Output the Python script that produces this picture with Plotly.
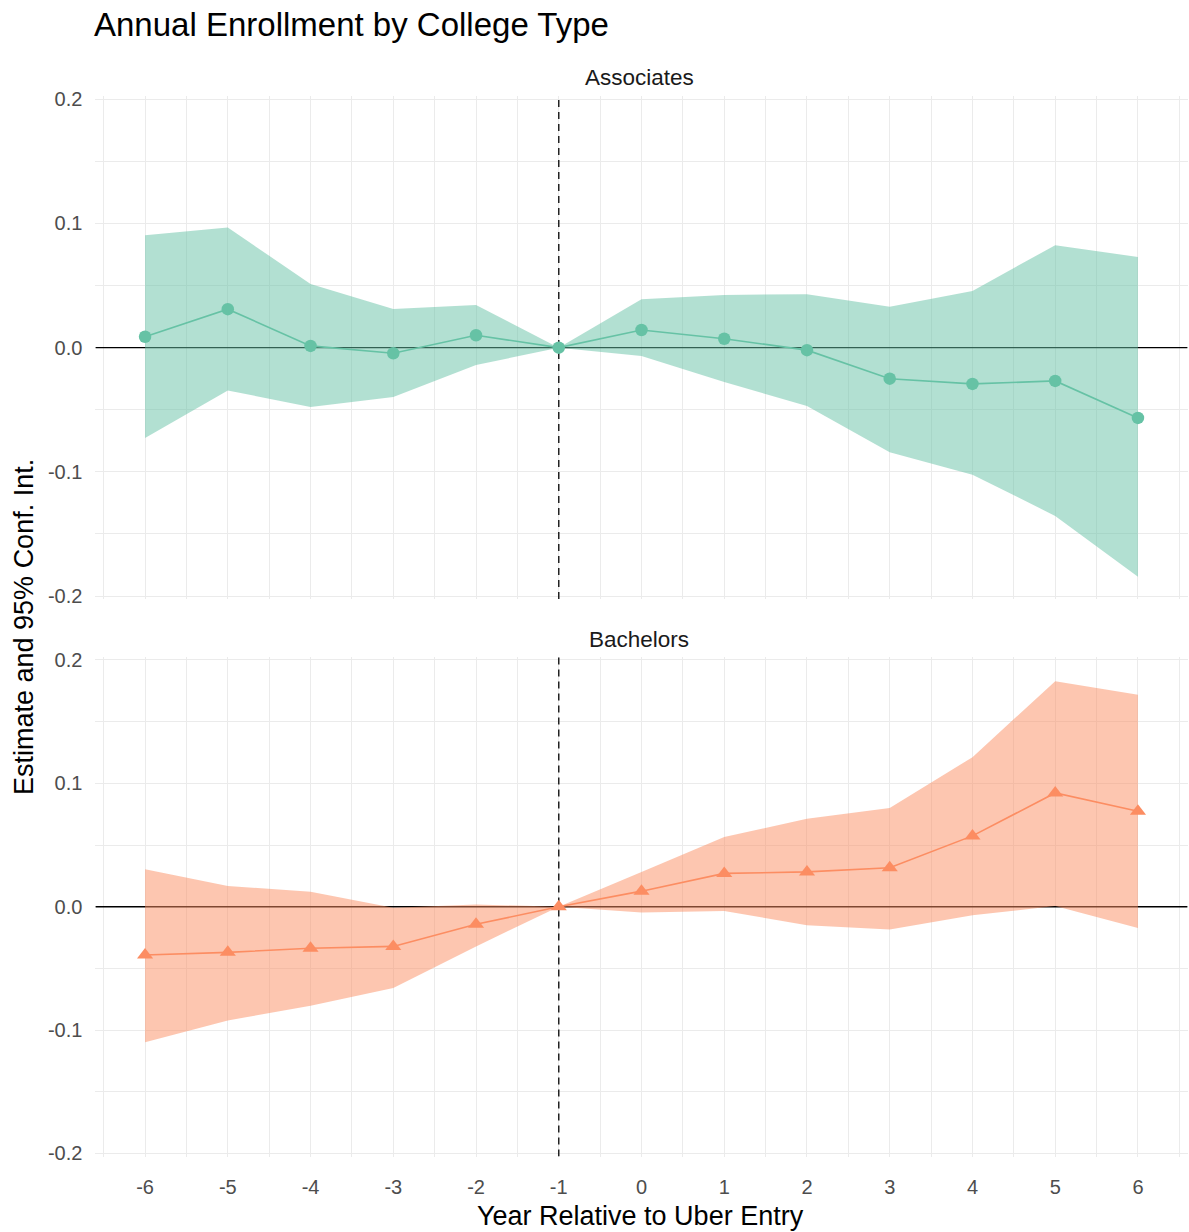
import plotly.graph_objects as go

# ---- data -------------------------------------------------------------
years = [-6, -5, -4, -3, -2, -1, 0, 1, 2, 3, 4, 5, 6]

assoc_est = [0.0088, 0.0310, 0.0014, -0.0045, 0.0100, 0.0, 0.0142, 0.0072, -0.0020, -0.0250, -0.0292, -0.0268, -0.0566]
assoc_hi = [0.0905, 0.0968, 0.0512, 0.0312, 0.0343, 0.0, 0.0390, 0.0425, 0.0430, 0.0330, 0.0457, 0.0825, 0.0730]
assoc_lo = [-0.0728, -0.0345, -0.0478, -0.0398, -0.0140, 0.0, -0.0068, -0.0277, -0.0470, -0.0842, -0.1023, -0.1355, -0.1845]

bach_est = [-0.0392, -0.0370, -0.0337, -0.0322, -0.0143, 0.0, 0.0126, 0.0270, 0.0282, 0.0316, 0.0574, 0.0922, 0.0774]
bach_hi = [0.0303, 0.0168, 0.0122, -0.0008, 0.0018, 0.0, 0.0282, 0.0565, 0.0712, 0.0800, 0.1212, 0.1828, 0.1718]
bach_lo = [-0.1098, -0.0922, -0.0803, -0.0660, -0.0322, 0.0, -0.0048, -0.0035, -0.0150, -0.0185, -0.0070, 0.0005, -0.0173]

entry_ref_year = -1   # reference period (dashed vertical line)

x_ticks = years
x_labels = [str(v) for v in years]
y_ticks = [-0.2, -0.1, 0.0, 0.1, 0.2]
y_labels = ["-0.2", "-0.1", "0.0", "0.1", "0.2"]

panels = ["Associates", "Bachelors"]

# ---- styling ----------------------------------------------------------
W, H = 1189, 1232
FONT = "Liberation Sans, Arial, sans-serif"
GREEN = "#66c2a5"
ORANGE = "#fc8d62"
GRID = "#ebebeb"

x_range = [-6.6, 6.6]
y_range = [-0.2025, 0.2025]


def px_x(p):
    return p / W


def px_y(p):
    return 1 - p / H


fig = go.Figure()

series = [
    (assoc_est, assoc_hi, assoc_lo, GREEN, "rgba(102,194,165,0.5)", "circle", 12.5, "x", "y"),
    (bach_est, bach_hi, bach_lo, ORANGE, "rgba(252,141,98,0.5)", "triangle-up", 14, "x2", "y2"),
]

for est, hi, lo, col, fillcol, sym, msize, xa, ya in series:
    # horizontal zero line (under the ribbon)
    fig.add_trace(go.Scatter(
        x=x_range, y=[0, 0], mode="lines",
        line=dict(color="black", width=1.4),
        hoverinfo="skip", showlegend=False, xaxis=xa, yaxis=ya,
    ))
    # dashed line at the reference year
    fig.add_trace(go.Scatter(
        x=[entry_ref_year, entry_ref_year], y=y_range, mode="lines",
        line=dict(color="#222222", width=1.5, dash="7px,5px"),
        hoverinfo="skip", showlegend=False, xaxis=xa, yaxis=ya,
    ))
    # confidence ribbon as a closed polygon
    fig.add_trace(go.Scatter(
        x=years + years[::-1],
        y=hi + lo[::-1],
        fill="toself",
        fillcolor=fillcol,
        line=dict(width=0),
        mode="lines",
        hoverinfo="skip",
        showlegend=False,
        xaxis=xa, yaxis=ya,
    ))
    # point estimates
    fig.add_trace(go.Scatter(
        x=years, y=est,
        mode="lines+markers",
        line=dict(color=col, width=1.6),
        marker=dict(symbol=sym, size=msize, color=col, line=dict(width=0)),
        showlegend=False,
        xaxis=xa, yaxis=ya,
    ))

x_dom = [px_x(95.4), px_x(1187.6)]
y_dom_top = [px_y(599.1), px_y(96.2)]
y_dom_bot = [px_y(1156.5), px_y(656.9)]

common_x = dict(
    range=x_range, domain=x_dom,
    tickmode="array", tickvals=x_ticks, ticktext=x_labels,
    showgrid=True, gridcolor=GRID, gridwidth=1.3,
    minor=dict(dtick=0.5, tick0=0.5, showgrid=True, gridcolor=GRID, gridwidth=0.9),
    zeroline=False, showline=False, ticks="",
    automargin=False,
    tickfont=dict(family=FONT, size=20, color="#4d4d4d"),
)
common_y = dict(
    range=y_range,
    tickmode="array", tickvals=y_ticks, ticktext=y_labels,
    showgrid=True, gridcolor=GRID, gridwidth=1.3,
    minor=dict(dtick=0.05, tick0=0.05, showgrid=True, gridcolor=GRID, gridwidth=0.9),
    zeroline=False, showline=False, ticks="",
    automargin=False,
    ticklabelstandoff=12,
    tickfont=dict(family=FONT, size=20, color="#4d4d4d"),
)

fig.update_layout(
    width=W, height=H,
    margin=dict(l=0, r=0, t=0, b=0, autoexpand=False),
    paper_bgcolor="white", plot_bgcolor="white",
    showlegend=False,
    xaxis=dict(common_x, anchor="y", showticklabels=False),
    yaxis=dict(common_y, domain=y_dom_top, anchor="x"),
    xaxis2=dict(common_x, anchor="y2", showticklabels=True, ticklabelstandoff=16),
    yaxis2=dict(common_y, domain=y_dom_bot, anchor="x2"),
    title=dict(
        text="Annual Enrollment by College Type",
        x=px_x(94), xanchor="left", xref="paper",
        y=px_y(24), yanchor="middle", yref="paper",
        automargin=False,
        font=dict(family=FONT, size=33, color="black"),
    ),
)

# facet strip labels
for name, ypx in zip(panels, (77, 639)):
    fig.add_annotation(text=name, xref="paper", yref="paper",
                       x=px_x(639), y=px_y(ypx), xanchor="center", yanchor="middle",
                       showarrow=False,
                       font=dict(family=FONT, size=22.5, color="#1a1a1a"))

# axis titles
fig.add_annotation(text="Year Relative to Uber Entry", xref="paper", yref="paper",
                   x=px_x(640), y=px_y(1216), xanchor="center", yanchor="middle",
                   showarrow=False, font=dict(family=FONT, size=27, color="black"))
fig.add_annotation(text="Estimate and 95% Conf. Int.", xref="paper", yref="paper",
                   x=px_x(24), y=px_y(627), xanchor="center", yanchor="middle",
                   textangle=-90, showarrow=False,
                   font=dict(family=FONT, size=27, color="black"))

fig.write_html("out.html")
